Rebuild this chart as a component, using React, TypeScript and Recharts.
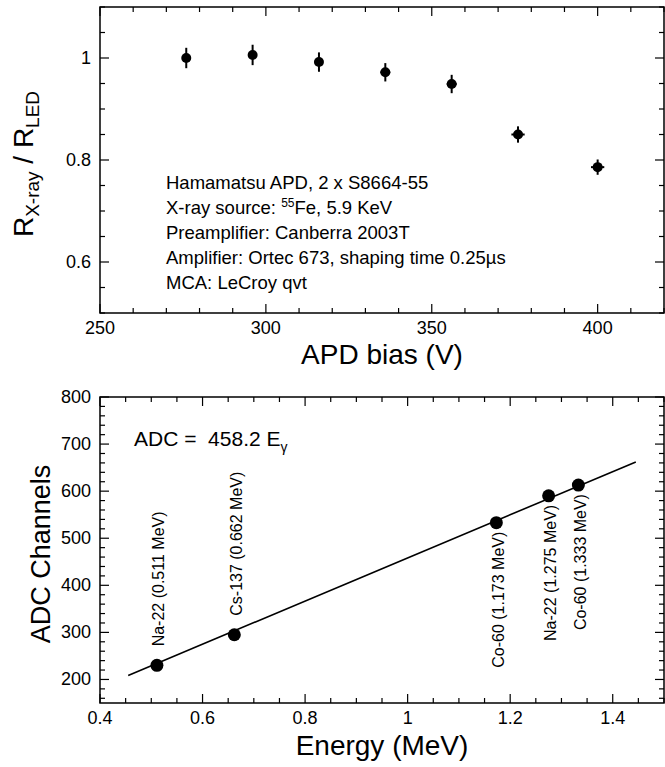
import React from 'react'
import { ComposedChart, Scatter, XAxis, YAxis, ErrorBar, ReferenceArea } from 'recharts'

// top panel: rate ratio vs APD bias
const biasVolts = [276, 296, 316, 336, 356, 376, 400]
const rateRatio = [1.0, 1.006, 0.992, 0.972, 0.949, 0.85, 0.786]
const ratioErr = [0.02, 0.02, 0.019, 0.018, 0.018, 0.016, 0.015]
const biasErr = [0, 0, 0, 1.5, 1.5, 2, 2]

// bottom panel: calibration
const sourceNames = ['Na-22 (0.511 MeV)', 'Cs-137 (0.662 MeV)', 'Co-60 (1.173 MeV)', 'Na-22 (1.275 MeV)', 'Co-60 (1.333 MeV)']
const energyMeV = [0.511, 0.662, 1.173, 1.275, 1.333]
const adcChannel = [230, 295, 533, 590, 613]
const fitEnergy = [0.455, 1.445]
const fitAdc = [208.5, 662.1]

const biasMajor = [250, 300, 350, 400]
const ratioMajor = [0.6, 0.8, 1]
const energyMajor = [0.4, 0.6, 0.8, 1, 1.2, 1.4]
const adcMajor = [200, 300, 400, 500, 600, 700, 800]

const steps = (a: number, b: number, s: number) =>
  Array.from({ length: Math.round((b - a) / s) + 1 }, (_, i) => +(a + i * s).toFixed(4))

const biasTicks = steps(250, 420, 10)
const ratioTicks = steps(0.5, 1.1, 0.05)
const energyTicks = steps(0.4, 1.5, 0.05)
const adcTicks = steps(160, 800, 20)

const ratioData = biasVolts.map((v, i) => ({ v, r: rateRatio[i], ey: ratioErr[i], ex: biasErr[i] }))
const calData = energyMeV.map((e, i) => ({ e, adc: adcChannel[i], name: sourceNames[i] }))
const fitData = fitEnergy.map((e, i) => ({ e, adc: fitAdc[i] }))

const FONT = '"Liberation Sans", Arial, Helvetica, sans-serif'
const W = 665
const PLOT_W = 564
const PLOT_H = 306

const isMajor = (majors: number[], v: number) => majors.some((m) => Math.abs(m - v) < 1e-6)

const xTick = (majors: number[]) => (props: any) => {
  const { x, y, payload } = props
  const major = isMajor(majors, payload.value)
  const len = major ? 9 : 5
  return (
    <g>
      <line x1={x} y1={y} x2={x} y2={y - len} stroke="#000" strokeWidth={1.2} />
      <line x1={x} y1={y - PLOT_H} x2={x} y2={y - PLOT_H + len} stroke="#000" strokeWidth={1.2} />
      {major && (
        <text x={x} y={y + 21} textAnchor="middle" fontSize={18} fill="#000" fontFamily={FONT}>
          {String(payload.value)}
        </text>
      )}
    </g>
  )
}

const yTick = (majors: number[]) => (props: any) => {
  const { x, y, payload } = props
  const major = isMajor(majors, payload.value)
  const len = major ? 9 : 5
  return (
    <g>
      <line x1={x} y1={y} x2={x + len} y2={y} stroke="#000" strokeWidth={1.2} />
      <line x1={x + PLOT_W} y1={y} x2={x + PLOT_W - len} y2={y} stroke="#000" strokeWidth={1.2} />
      {major && (
        <text x={x - 9} y={y + 6} textAnchor="end" fontSize={18} fill="#000" fontFamily={FONT}>
          {String(payload.value)}
        </text>
      )}
    </g>
  )
}

const Dot = (r: number) => (p: any) => <circle cx={p.cx} cy={p.cy} r={r} fill="#000" />

const CalPoint = (p: any) => {
  const above = p.payload.e < 1
  const tx = p.cx + 2
  const ty = above ? p.cy - 19 : p.cy + 9
  return (
    <g>
      <circle cx={p.cx} cy={p.cy} r={6.5} fill="#000" />
      <text
        x={tx}
        y={ty}
        transform={`rotate(-90, ${tx}, ${ty})`}
        textAnchor={above ? 'start' : 'end'}
        dominantBaseline="central"
        fontSize={16}
        fill="#000"
        fontFamily={FONT}
      >
        {p.payload.name}
      </text>
    </g>
  )
}

const notes = [
  'Hamamatsu APD, 2 x S8664-55',
  null,
  'Preamplifier: Canberra 2003T',
  'Amplifier: Ortec 673, shaping time 0.25\u00b5s',
  'MCA: LeCroy qvt',
]

export default function App() {
  return (
    <div style={{ position: 'absolute', left: 0, top: 0, width: W, height: 767, background: '#fff', fontFamily: FONT }}>
      <ComposedChart width={W} height={380} data={ratioData} margin={{ top: 7, right: 1, bottom: 0, left: 0 }}>
        <XAxis
          type="number"
          dataKey="v"
          domain={[250, 420]}
          ticks={biasTicks}
          interval={0}
          tickSize={0}
          tickMargin={0}
          axisLine={false}
          tickLine={false}
          tick={xTick(biasMajor)}
          height={67}
        />
        <YAxis
          type="number"
          dataKey="r"
          domain={[0.5, 1.1]}
          ticks={ratioTicks}
          interval={0}
          tickSize={0}
          tickMargin={0}
          axisLine={false}
          tickLine={false}
          tick={yTick(ratioMajor)}
          width={100}
        />
        <ReferenceArea x1={250} x2={420} y1={0.5} y2={1.1} fill="none" stroke="#000" strokeWidth={1.5} />
        <Scatter dataKey="r" fill="#000" shape={Dot(5)} isAnimationActive={false}>
          <ErrorBar dataKey="ey" direction="y" width={0} stroke="#000" strokeWidth={2} isAnimationActive={false} />
          <ErrorBar dataKey="ex" direction="x" width={0} stroke="#000" strokeWidth={2} isAnimationActive={false} />
        </Scatter>
        {notes.map((t, i) => (
          <text key={i} x={166} y={189 + i * 25} fontSize={18.5} fill="#000" fontFamily={FONT}>
            {t ?? (
              <>
                X-ray source: <tspan fontSize={12} dy={-7}>55</tspan>
                <tspan dy={7}>Fe, 5.9 KeV</tspan>
              </>
            )}
          </text>
        ))}
        <text x={382} y={364} textAnchor="middle" fontSize={28} fill="#000" fontFamily={FONT}>
          APD bias (V)
        </text>
        <text x={33} y={164} transform="rotate(-90, 33, 164)" textAnchor="middle" fontSize={28} fill="#000" fontFamily={FONT}>
          R<tspan fontSize={19} dy={6}>X-ray</tspan>
          <tspan dy={-6}> / R</tspan>
          <tspan fontSize={19} dy={6}>LED</tspan>
        </text>
      </ComposedChart>

      <ComposedChart width={W} height={387} margin={{ top: 17, right: 1, bottom: 0, left: 0 }}>
        <XAxis
          type="number"
          dataKey="e"
          domain={[0.4, 1.5]}
          ticks={energyTicks}
          interval={0}
          tickSize={0}
          tickMargin={0}
          axisLine={false}
          tickLine={false}
          tick={xTick(energyMajor)}
          height={64}
        />
        <YAxis
          type="number"
          dataKey="adc"
          domain={[150, 800]}
          ticks={adcTicks}
          interval={0}
          tickSize={0}
          tickMargin={0}
          axisLine={false}
          tickLine={false}
          tick={yTick(adcMajor)}
          width={100}
        />
        <ReferenceArea x1={0.4} x2={1.5} y1={150} y2={800} fill="none" stroke="#000" strokeWidth={1.5} />
        <Scatter data={fitData} dataKey="adc" line={{ stroke: '#000', strokeWidth: 1.6 }} shape={() => <g />} isAnimationActive={false} />
        <Scatter data={calData} dataKey="adc" shape={CalPoint} isAnimationActive={false} />
        <text x={134} y={66} fontSize={21} fill="#000" fontFamily={FONT}>
          {'ADC =\u00a0 458.2 E'}
          <tspan fontSize={14} dy={6}>{'\u03b3'}</tspan>
        </text>
        <text x={382} y={375} textAnchor="middle" fontSize={28} fill="#000" fontFamily={FONT}>
          Energy (MeV)
        </text>
        <text x={50} y={174} transform="rotate(-90, 50, 174)" textAnchor="middle" fontSize={27} fill="#000" fontFamily={FONT}>
          ADC Channels
        </text>
      </ComposedChart>
    </div>
  )
}
